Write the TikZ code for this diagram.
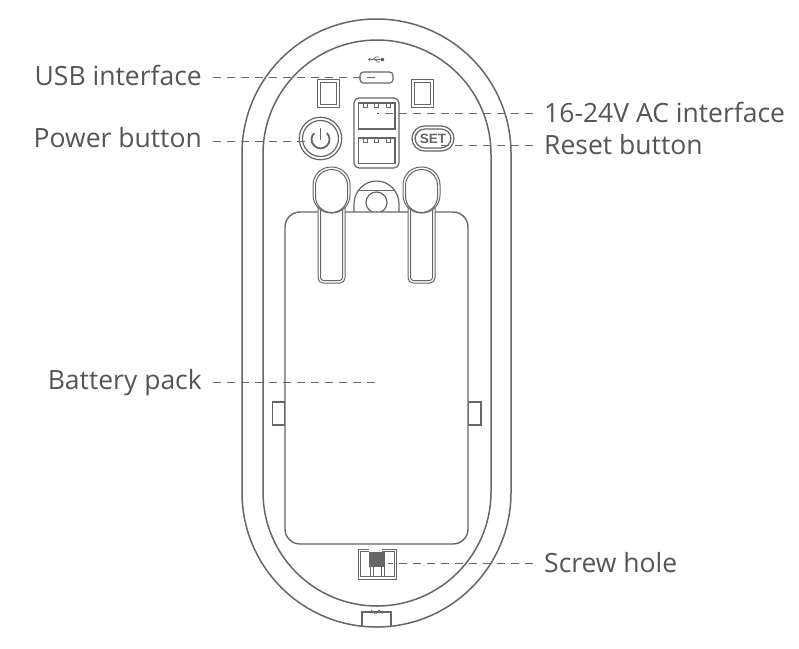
\documentclass[tikz,border=0pt]{standalone}
\usepackage{fontspec}
\setmainfont{Open Sans}
\newfontfamily\setfont{Liberation Sans}
\usetikzlibrary{calc}
\definecolor{ln}{HTML}{666666}
\definecolor{tx}{HTML}{555555}
\tikzset{
 part/.style={draw=ln,line width=1.2pt,fill=white},
 thin part/.style={draw=ln,line width=1pt,fill=white},
 lab/.style={text=tx,font=\fontsize{26.5}{30}\selectfont,inner sep=0pt},
 leader/.style={draw=ln,line width=0.9pt,dash pattern=on 8pt off 6pt},
}
\begin{document}
\begin{tikzpicture}[x=1pt,y=-1pt]
\useasboundingbox (0,0) rectangle (799,648);
% housing
\draw[part,line width=1.5pt] (242,153.5) arc[start angle=180,end angle=360,radius=134.5] -- (511,492.5) arc[start angle=0,end angle=180,radius=134.5] -- cycle;
\draw[part,line width=1.5pt] (263,154) arc[start angle=180,end angle=360,radius=114] -- (491,492) arc[start angle=0,end angle=180,radius=114] -- cycle;
% battery tabs
\draw[part] (272.5,402) rectangle (285,425);
\draw[part] (468,402) rectangle (481,425);
% centre latch
\draw[part] (354,212) -- (354,204) arc[start angle=180,end angle=360,x radius=22.5,y radius=23] -- (399,212);
\draw[part] (358,190.5) -- (395,190.5);
\node[circle,draw=ln,line width=1.2pt,fill=white,minimum size=21pt,inner sep=0pt] (latch) at (376.5,202.5) {};
% battery
\draw[part,line width=1.4pt,rounded corners=15pt] (285,212) rectangle (468,544);
% straps
\foreach \x in {318,408}{
 \draw[thin part,rounded corners=5pt] (\x,200) rectangle (\x+27,283);
 \draw[thin part,rounded corners=3pt] (\x+2.5,200) rectangle (\x+24.5,280.5);
}
\foreach \x in {313,403}{
 \draw[thin part,rounded corners=18pt] (\x,167) rectangle (\x+37,213);
 \draw[thin part,rounded corners=16pt] (\x+2.5,169.5) rectangle (\x+34.5,212.5);
}
% USB
\draw[part,rounded corners=3.5pt] (360,72) rectangle (393,83);
\draw[ln,line width=.8pt] (370,59.5) -- (383,59.5);
\fill[ln] (369.5,59.5) circle (1.4pt) (381,58) rectangle (384,61);
\draw[ln,line width=.7pt] (373,59.5) -- (375.5,57) -- (379,57) (375,59.5) -- (377.5,62) -- (380,62);
% windows
\foreach \x in {317,411}{
 \draw[thin part] (\x,79) rectangle (\x+22,107);
 \draw[thin part] (\x+3,82) rectangle (\x+19,104);
}
% dual connector
\draw[part,rounded corners=5pt] (354,98) rectangle (399,168);
\draw[part] (358.5,103) rectangle (395,129);
\draw[part] (358.5,138) rectangle (395,163.5);
\foreach \y in {103,138}\foreach \x in {365,376.5,388}{
 \draw[thin part,line width=.9pt] (\x-2,\y) rectangle (\x+2,\y+4.5);
}
% power
\node[circle,draw=ln,line width=1.2pt,fill=white,minimum size=42.5pt,inner sep=0pt] (power) at (320.5,138.5) {};
\node[circle,draw=ln,line width=1.2pt,fill=none,minimum size=36pt,inner sep=0pt] at (320.5,138.5) {};
\draw[ln,line width=1.8pt] (326.9,133) arc[start angle=-45,end angle=225,radius=9];
\draw[ln,line width=1.8pt] (320.5,128) -- (320.5,140);
% reset
\draw[part,rounded corners=12.5pt] (412,126) rectangle (454,151);
\draw[part,rounded corners=10pt] (415,129) rectangle (451,148);
\node[text=ln,inner sep=0pt,font=\setfont\fontsize{13.5}{14}\selectfont\bfseries] (settext) at (433,139) {SET};
% screw
\draw[thin part] (358,549) rectangle (396,579);
\draw[thin part] (360,551) rectangle (394,576.5);
\fill[white] (369,547) rectangle (382,552);
\fill[ln] (369,552) rectangle (385,567);
\draw[ln,line width=1pt] (370,567) -- (370,576.5) (373,567) -- (373,576.5) (381,567) -- (381,576.5) (384,567) -- (384,576.5);
% notch
\draw[part,fill=none] (362,626.5) -- (362,612) -- (391,612) -- (391,626.5);
\draw[ln,line width=.8pt] (371,610) -- (375,613.5) (376,613.5) -- (379,610) -- (383,613.5);
% labels
\node[lab,anchor=base east] (lusb) at (202,85) {USB interface};
\node[lab,anchor=base east] (lpow) at (202,147.5) {Power button};
\node[lab,anchor=base east] (lbat) at (202,389.5) {Battery pack};
\node[lab,anchor=base west] (lac) at (544,122.5) {16-24V AC interface};
\node[lab,anchor=base west] (lset) at (544,154) {Reset button};
\node[lab,anchor=base west] (lscr) at (544,572) {Screw hole};
\coordinate (eusb) at (380,77);
\coordinate (epow) at (310,141);
\coordinate (ebat) at (378,382);
\coordinate (eac) at (377,113);
\coordinate (eset) at (437,145);
\coordinate (escr) at (388,563);
\draw[leader] (213,77) -- (eusb);
\draw[leader] (213,141) -- (epow);
\draw[leader] (213,382) -- (ebat);
\draw[leader] (533,113) -- (eac);
\draw[leader] (533,145) -- (eset);
\draw[leader] (533,563) -- (escr);
\end{tikzpicture}
\end{document}
